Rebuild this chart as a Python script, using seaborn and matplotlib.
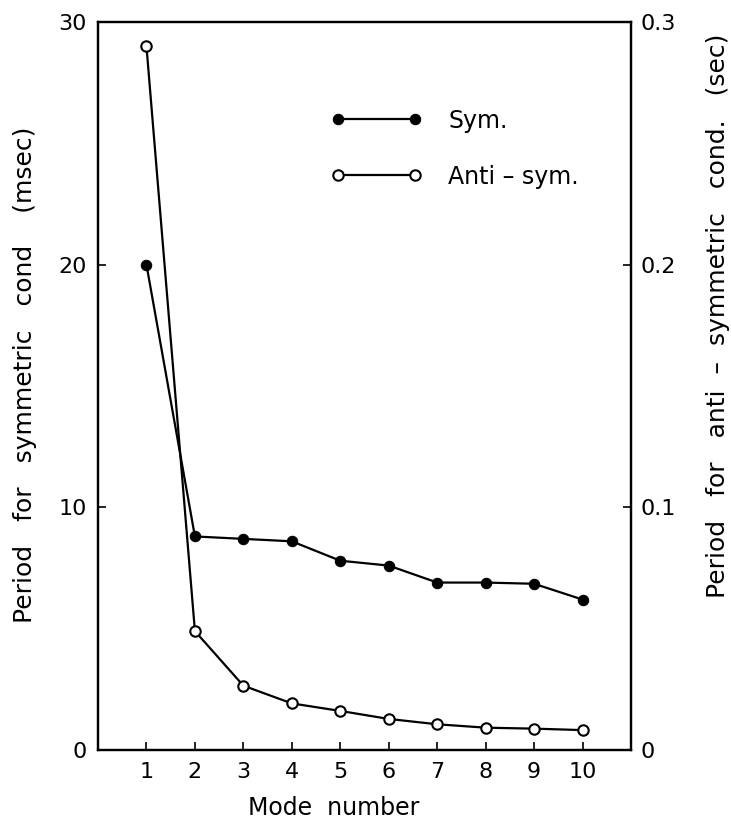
import matplotlib
matplotlib.use("Agg")
import matplotlib.pyplot as plt
import seaborn as sns
import pandas as pd

modes = [1, 2, 3, 4, 5, 6, 7, 8, 9, 10]
sym_msec = [20.0, 8.8, 8.7, 8.6, 7.8, 7.6, 6.9, 6.9, 6.85, 6.2]
anti_sec = [0.290, 0.049, 0.0265, 0.0192, 0.0161, 0.0128, 0.0106, 0.0092, 0.0088, 0.0082]
x_ticks = modes
left_ticks = [0, 10, 20, 30]
right_ticks = [0, 0.1, 0.2, 0.3]
right_ticklabels = ["0", "0.1", "0.2", "0.3"]

sns.set_style("ticks")
plt.rcParams['font.family'] = ['DejaVu Sans']
plt.rcParams.update({"text.color": "black", "axes.labelcolor": "black",
                     "xtick.color": "black", "ytick.color": "black"})

W, H = 731, 824
fig = plt.figure(figsize=(W / 100, H / 100), dpi=100)
ax = fig.add_axes([98 / W, 1 - 750 / H, (631 - 98) / W, (750 - 22) / H])
ax2 = ax.twinx()

df_s = pd.DataFrame({"mode": modes, "val": sym_msec})
df_a = pd.DataFrame({"mode": modes, "val": anti_sec})

sns.lineplot(data=df_s, x="mode", y="val", ax=ax, color="black", lw=1.6,
             marker="o", markersize=7.5, markerfacecolor="black",
             markeredgecolor="black", label="Sym.", legend=False)
sns.lineplot(data=df_a, x="mode", y="val", ax=ax2, color="black", lw=1.6,
             marker="o", markersize=7.5, markerfacecolor="white",
             markeredgecolor="black", markeredgewidth=1.5,
             label="Anti \u2013 sym.", legend=False)

ax.set_xlim(0, 11)
ax.set_ylim(0, 30)
ax2.set_ylim(0, 0.3)
ax.set_xticks(x_ticks)
ax.set_xticklabels([str(m) for m in x_ticks])
ax.set_yticks(left_ticks)
ax2.set_yticks(right_ticks)
ax2.set_yticklabels(right_ticklabels)

for a in (ax, ax2):
    for s in a.spines.values():
        s.set_visible(True)
        s.set_linewidth(1.6)
        s.set_color("black")

ax.tick_params(axis="x", direction="in", length=6, width=1.2, labelsize=16, pad=9)
ax.tick_params(axis="y", direction="in", length=6, width=1.2, labelsize=16, pad=8)
ax2.tick_params(axis="y", direction="in", length=6, width=1.2, labelsize=16, pad=7)

ax.set_xlabel("")
ax.set_ylabel("")
ax2.set_ylabel("")
fig.text(334 / W, 1 - 815 / H, "Mode  number", fontsize=17,
         ha="center", va="baseline")
fig.text(25 / W, 1 - 375 / H, "Period   for   symmetric   cond    (msec)",
         fontsize=18, rotation=90, ha="center", va="center")
fig.text(718 / W, 1 - 316 / H, "Period   for   anti  \u2013  symmetric   cond.   (sec)",
         fontsize=18, rotation=90, ha="center", va="center")

h1, l1 = ax.get_legend_handles_labels()
h2, l2 = ax2.get_legend_handles_labels()
leg = ax.legend(h1 + h2, l1 + l2, loc="center left", bbox_to_anchor=(0.420, 0.826),
                frameon=False, numpoints=2, handlelength=3.86, handletextpad=1.1,
                labelspacing=1.35, fontsize=17, borderaxespad=0)

fig.savefig("out.png", dpi=100)
